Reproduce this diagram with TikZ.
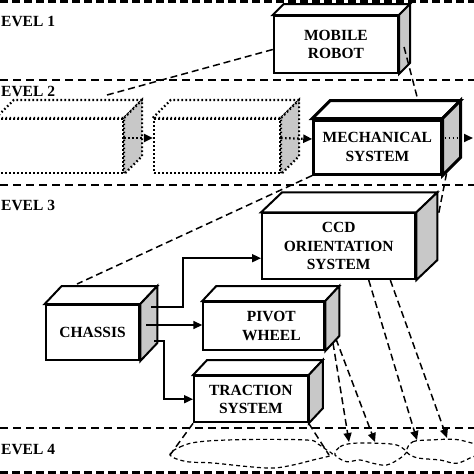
\documentclass[tikz,border=0pt]{standalone}
\usepackage{fontspec}
\setmainfont{Liberation Serif}
\usetikzlibrary{calc,arrows.meta}
\definecolor{sidegray}{RGB}{200,200,200}
\tikzset{
  boxtext/.style={font=\fontsize{15.5}{18.5}\selectfont\bfseries},
  front/.style={draw, line width=2pt, fill=white, inner sep=0pt, align=center, boxtext},
  facesolid/.style={line width=2pt},
  facethick/.style={line width=3pt},
  facedot/.style={line width=2.2pt, dash pattern=on 1.6pt off 2.4pt},
  lbl/.style={inner sep=0pt, anchor=west, boxtext},
  lvl/.style={line width=1.3pt, dash pattern=on 8pt off 5pt},
  lvlthick/.style={line width=3pt, dash pattern=on 8pt off 4pt},
  persp/.style={line width=1.5pt, dash pattern=on 7pt off 4pt},
  tip/.style={-{Triangle[length=9pt,width=8pt]}},
  conn/.style={line width=1.6pt, tip},
  dotarrow/.style={line width=2.2pt, dash pattern=on 1.6pt off 2.4pt, tip},
  blob/.style={line width=1.2pt, dash pattern=on 4pt off 3pt},
}
\newcommand\cubefaces[4]{%
  \draw[#4, fill=white] (#1.north west) -- ++(#2,-#3) -- ($(#1.north east)+(#2,-#3)$) -- (#1.north east) -- cycle;
  \draw[#4, fill=sidegray] (#1.north east) -- ++(#2,-#3) -- ($(#1.south east)+(#2,-#3)$) -- (#1.south east) -- cycle;
}
\begin{document}
\begin{tikzpicture}[x=1pt,y=-1pt]
\clip (0,0) rectangle (474,474);
\fill[white] (0,0) rectangle (474,474);

% level separators
\draw[lvlthick] (0,1.5) -- (474,1.5);
\draw[lvl] (0,80) -- (474,80);
\draw[lvl] (0,185) -- (474,185);
\draw[lvl] (0,428) -- (474,428);
\draw[lvlthick] (0,472) -- (474,472);

% level labels
\node[lbl] (l1) at (1,21.3) {EVEL 1};
\node[lbl] (l2) at (1,91.3) {EVEL 2};
\node[lbl] (l3) at (1,205.8) {EVEL 3};
\node[lbl] (l4) at (1,449.5) {EVEL 4};

% level 1
\node[front, minimum width=124.3pt, minimum height=57pt] (robot) at (335.9,44.5) {MOBILE\\ROBOT};
\cubefaces{robot}{11}{11}{facesolid}

% level 2
\node[front, facedot, minimum width=126pt, minimum height=54pt] (dotA) at (60,146) {};
\cubefaces{dotA}{18}{18}{facedot}
\node[front, facedot, minimum width=126pt, minimum height=54pt] (dotB) at (217,146) {};
\cubefaces{dotB}{18}{18}{facedot}
\node[front, line width=3pt, minimum width=127.3pt, minimum height=54pt] (mech) at (377.4,147) {MECHANICAL\\SYSTEM};
\cubefaces{mech}{18}{18}{facethick}

\coordinate (outR) at (473,138);
\draw[dotarrow] ($(dotA.east)+(0,-8)$) -- ($(dotB.west)+(0,-8)$);
\draw[dotarrow] ($(dotB.east)+(0,-8)$) -- ($(mech.west)+(0,-8)$);
\draw[dotarrow] ($(mech.east)+(-2,-9)$) -- (outR);

% level 3
\node[front, minimum width=153.3pt, minimum height=65.7pt] (ccd) at (338.7,246.2) {CCD\\ORIENTATION\\SYSTEM};
\cubefaces{ccd}{21}{20}{facesolid}
\node[front, minimum width=121pt, minimum height=48pt] (pivot) at (263.8,326) {\hspace*{15pt}PIVOT\\\hspace*{15pt}WHEEL};
\cubefaces{pivot}{14}{15}{facesolid}
\node[front, minimum width=113.7pt, minimum height=46.3pt] (traction) at (250.9,399.2) {TRACTION\\SYSTEM};
\cubefaces{traction}{14}{15}{facesolid}
\node[front, minimum width=93.6pt, minimum height=55pt] (chassis) at (92.5,332.5) {CHASSIS};
\cubefaces{chassis}{17}{18}{facesolid}

% chassis connectors
\coordinate (c1) at ($(chassis.east)+(10.7,-25.8)$);
\coordinate (c2) at ($(chassis.east)+(5.7,-7.5)$);
\coordinate (c3) at ($(chassis.east)+(13.7,8.5)$);
\draw[conn] (c1) -- ++(32,0) |- ($(ccd.west)+(0,12)$);
\draw[conn] (c2) -- (c2 -| pivot.west);
\draw[conn] (c3) -- ++(9.7,0) |- (traction.west);

% perspective lines level 1 -> 2
\coordinate (pL) at (107,95);
\draw[persp] ($(robot.west)+(0,5)$) -- (pL);
\draw[persp] ($(robot.east)+(5,2.5)$) -- ($(mech.north)+(40.6,-18)$);

% perspective lines level 2 -> 3
\draw[persp] (mech.south west) -- ($(chassis.north west)+(32.3,-20)$);
\draw[persp] ($(mech.south east)+(4,-2)$) -- ($(ccd.north east)+(22,2.7)$);

% level 4 blobs
\draw[blob] plot[smooth cycle, tension=0.6] coordinates {(170,455) (180,447) (200,441.7) (246.7,439.5) (306.7,440) (317,443.5) (326.7,450) (331.7,455) (313,460) (293,465) (273,468) (246.7,466.5) (213,463) (186,461.5)};
\draw[blob] plot[smooth cycle, tension=0.6] coordinates {(335,453) (340,446.7) (353,443.3) (380,443.3) (396.7,445) (405,450) (406.7,452) (400,458.3) (386.7,465) (373,463.3) (360,460) (346.7,461.7) (336.7,456.7)};
\draw[blob] plot[smooth cycle, tension=0.6] coordinates {(406.7,450) (413,441.7) (430,440) (453,439.3) (466.7,441.7) (482,447) (482,455) (473,456.7) (456.7,463.3) (440,460) (420,458.3) (410,455)};

% perspective lines level 3 -> 4
\coordinate (b1) at (170,455);
\coordinate (b2) at (329,455);
\draw[persp] (traction.south west) -- (b1);
\draw[persp] (traction.south east) -- (b2);

\coordinate (t1) at (349,442);
\coordinate (t2) at (375,442);
\coordinate (t3) at (417,440);
\coordinate (t4) at (447,438);
\draw[persp, tip] ($(pivot.south east)+(7.7,-8)$) -- (t1);
\draw[persp, tip] ($(pivot.south east)+(10.7,-12)$) -- (t2);
\draw[persp, tip] ($(ccd.south)+(30,0)$) -- (t3);
\draw[persp, tip] ($(ccd.south)+(51.6,0)$) -- (t4);
\end{tikzpicture}
\end{document}
